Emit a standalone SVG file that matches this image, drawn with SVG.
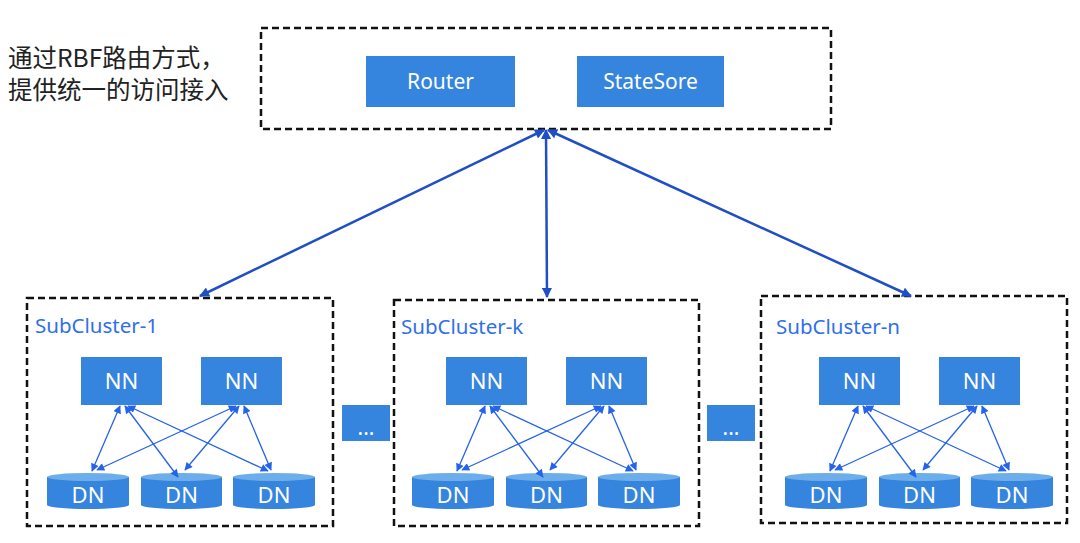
<svg xmlns="http://www.w3.org/2000/svg" width="1080" height="543" viewBox="0 0 1080 543">
<style>
.frame{fill:none;stroke:#111111;stroke-width:2.5;stroke-dasharray:7 4}
.box{fill:#3584DD}
.top{fill:#6DAEEA}
.lbl{font-family:"Noto Sans","Noto Sans CJK SC",sans-serif;fill:#ffffff;text-anchor:middle}
.big{font-size:21px}
.nd{font-size:22px}
.sc{font-family:"Noto Sans","Noto Sans CJK SC",sans-serif;font-size:20.5px;fill:#2F6FEB}
.cn{font-family:"Noto Sans CJK SC","Noto Sans",sans-serif;font-size:24.5px;fill:#222222}
.main{fill:none;stroke:#1F4FC4;stroke-width:2.5}
.sub{fill:none;stroke:#2563E8;stroke-width:1.3}
</style>
<defs>
<marker id="mh" viewBox="0 0 10 10" refX="9" refY="5" markerWidth="12" markerHeight="10" markerUnits="userSpaceOnUse" orient="auto-start-reverse"><path d="M0,0 L10,5 L0,10 Z" fill="#1F4FC4"/></marker>
<marker id="sh" viewBox="0 0 10 10" refX="9" refY="5" markerWidth="10" markerHeight="8" markerUnits="userSpaceOnUse" orient="auto-start-reverse"><path d="M0,0 L10,5 L0,10 Z" fill="#2563E8"/></marker>
</defs>

<g id="caption">
<text class="cn" x="8" y="67">通过RBF路由方式，</text>
<text class="cn" x="8" y="99">提供统一的访问接入</text>
</g>

<g id="gateway">
<rect class="frame" x="261" y="28" width="570" height="101"/>
<g id="router"><rect class="box" x="366" y="56" width="149" height="51"/><text class="lbl big" x="440.5" y="89">Router</text></g>
<g id="statestore"><rect class="box" x="577" y="56" width="147" height="51"/><text class="lbl big" x="650.5" y="89">StateSore</text></g>
</g>

<g id="cluster-1">
<rect class="frame" x="27" y="298" width="306" height="228"/>
<text class="sc" x="35" y="333">SubCluster-1</text>
</g>
<g id="cluster-k">
<rect class="frame" x="394" y="300" width="305" height="226"/>
<text class="sc" x="401" y="334">SubCluster-k</text>
</g>
<g id="cluster-n">
<rect class="frame" x="761" y="296" width="306" height="227"/>
<text class="sc" x="776" y="334">SubCluster-n</text>
</g>

<g id="ellipsis-1"><rect class="box" x="342" y="405" width="48" height="36"/><text class="lbl big" x="366" y="435">...</text></g>
<g id="ellipsis-2"><rect class="box" x="707" y="405" width="48" height="36"/><text class="lbl big" x="731" y="435">...</text></g>

<g id="c1-nn1"><rect class="box" x="81" y="357" width="81" height="48"/><text class="lbl nd" x="121.5" y="389">NN</text></g>
<g id="c1-nn2"><rect class="box" x="201" y="357" width="81" height="48"/><text class="lbl nd" x="241.5" y="389">NN</text></g>
<g id="c1-dn1"><path class="box" d="M47,477 V505 A41,4 0 0 0 129,505 V477 Z"/><ellipse class="top" cx="88" cy="477" rx="41" ry="4"/><text class="lbl nd" x="88" y="503">DN</text></g>
<g id="c1-dn2"><path class="box" d="M141,477 V505 A40.5,4 0 0 0 222,505 V477 Z"/><ellipse class="top" cx="181.5" cy="477" rx="40.5" ry="4"/><text class="lbl nd" x="181.5" y="503">DN</text></g>
<g id="c1-dn3"><path class="box" d="M233,477 V505 A41,4 0 0 0 315,505 V477 Z"/><ellipse class="top" cx="274" cy="477" rx="41" ry="4"/><text class="lbl nd" x="274" y="503">DN</text></g>

<g id="ck-nn1"><rect class="box" x="446" y="357" width="81" height="48"/><text class="lbl nd" x="486.5" y="389">NN</text></g>
<g id="ck-nn2"><rect class="box" x="566" y="357" width="81" height="48"/><text class="lbl nd" x="606.5" y="389">NN</text></g>
<g id="ck-dn1"><path class="box" d="M412,477 V505 A41,4 0 0 0 494,505 V477 Z"/><ellipse class="top" cx="453" cy="477" rx="41" ry="4"/><text class="lbl nd" x="453" y="503">DN</text></g>
<g id="ck-dn2"><path class="box" d="M506,477 V505 A40.5,4 0 0 0 587,505 V477 Z"/><ellipse class="top" cx="546.5" cy="477" rx="40.5" ry="4"/><text class="lbl nd" x="546.5" y="503">DN</text></g>
<g id="ck-dn3"><path class="box" d="M598,477 V505 A41,4 0 0 0 680,505 V477 Z"/><ellipse class="top" cx="639" cy="477" rx="41" ry="4"/><text class="lbl nd" x="639" y="503">DN</text></g>

<g id="cn-nn1"><rect class="box" x="819" y="357" width="81" height="48"/><text class="lbl nd" x="859.5" y="389">NN</text></g>
<g id="cn-nn2"><rect class="box" x="939" y="357" width="81" height="48"/><text class="lbl nd" x="979.5" y="389">NN</text></g>
<g id="cn-dn1"><path class="box" d="M785,477 V505 A41,4 0 0 0 867,505 V477 Z"/><ellipse class="top" cx="826" cy="477" rx="41" ry="4"/><text class="lbl nd" x="826" y="503">DN</text></g>
<g id="cn-dn2"><path class="box" d="M879,477 V505 A40.5,4 0 0 0 960,505 V477 Z"/><ellipse class="top" cx="919.5" cy="477" rx="40.5" ry="4"/><text class="lbl nd" x="919.5" y="503">DN</text></g>
<g id="cn-dn3"><path class="box" d="M971,477 V505 A41,4 0 0 0 1053,505 V477 Z"/><ellipse class="top" cx="1012" cy="477" rx="41" ry="4"/><text class="lbl nd" x="1012" y="503">DN</text></g>

<g id="connectors">
<line class="main" x1="544" y1="130" x2="200" y2="296" marker-start="url(#mh)" marker-end="url(#mh)"/>
<line class="main" x1="546" y1="130" x2="547" y2="297" marker-start="url(#mh)" marker-end="url(#mh)"/>
<line class="main" x1="548" y1="130" x2="911" y2="296" marker-start="url(#mh)" marker-end="url(#mh)"/>
<g id="c1-links">
<line class="sub" x1="120" y1="406" x2="92" y2="471" marker-start="url(#sh)" marker-end="url(#sh)"/>
<line class="sub" x1="125" y1="406" x2="178" y2="477" marker-start="url(#sh)" marker-end="url(#sh)"/>
<line class="sub" x1="128" y1="406" x2="268" y2="471" marker-start="url(#sh)" marker-end="url(#sh)"/>
<line class="sub" x1="236" y1="406" x2="97" y2="470" marker-start="url(#sh)" marker-end="url(#sh)"/>
<line class="sub" x1="239" y1="406" x2="185" y2="470" marker-start="url(#sh)" marker-end="url(#sh)"/>
<line class="sub" x1="244" y1="406" x2="271" y2="470" marker-start="url(#sh)" marker-end="url(#sh)"/>
</g>
<g id="ck-links">
<line class="sub" x1="485" y1="406" x2="457" y2="471" marker-start="url(#sh)" marker-end="url(#sh)"/>
<line class="sub" x1="490" y1="406" x2="543" y2="477" marker-start="url(#sh)" marker-end="url(#sh)"/>
<line class="sub" x1="493" y1="406" x2="633" y2="471" marker-start="url(#sh)" marker-end="url(#sh)"/>
<line class="sub" x1="601" y1="406" x2="462" y2="470" marker-start="url(#sh)" marker-end="url(#sh)"/>
<line class="sub" x1="604" y1="406" x2="550" y2="470" marker-start="url(#sh)" marker-end="url(#sh)"/>
<line class="sub" x1="609" y1="406" x2="636" y2="470" marker-start="url(#sh)" marker-end="url(#sh)"/>
</g>
<g id="cn-links">
<line class="sub" x1="858" y1="406" x2="830" y2="471" marker-start="url(#sh)" marker-end="url(#sh)"/>
<line class="sub" x1="863" y1="406" x2="916" y2="477" marker-start="url(#sh)" marker-end="url(#sh)"/>
<line class="sub" x1="866" y1="406" x2="1006" y2="471" marker-start="url(#sh)" marker-end="url(#sh)"/>
<line class="sub" x1="974" y1="406" x2="835" y2="470" marker-start="url(#sh)" marker-end="url(#sh)"/>
<line class="sub" x1="977" y1="406" x2="923" y2="470" marker-start="url(#sh)" marker-end="url(#sh)"/>
<line class="sub" x1="982" y1="406" x2="1009" y2="470" marker-start="url(#sh)" marker-end="url(#sh)"/>
</g>
</g>
</svg>
